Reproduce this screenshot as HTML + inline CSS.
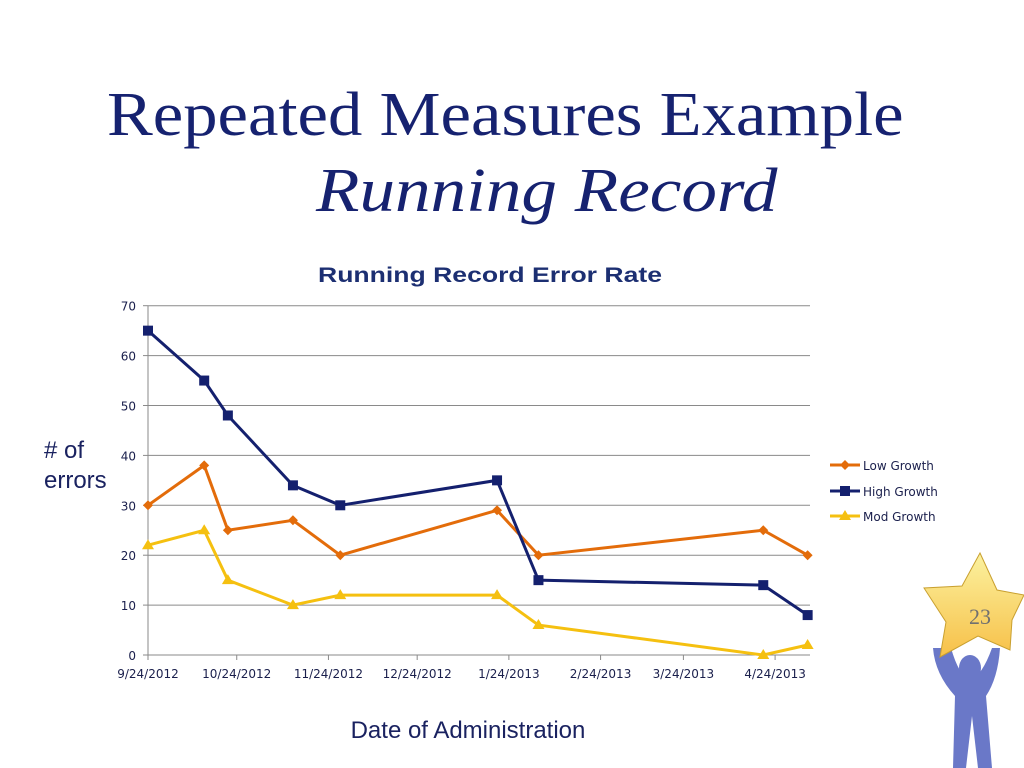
<!DOCTYPE html>
<html><head><meta charset="utf-8"><style>
html,body{margin:0;padding:0;background:#fff;}
body{width:1024px;height:768px;position:relative;overflow:hidden;font-family:"Liberation Sans",sans-serif;}
.t1{position:absolute;left:107px;top:80px;font-family:"Liberation Serif",serif;font-size:62px;color:#162270;white-space:nowrap;transform:scaleX(1.107);transform-origin:0 0;}
.t2{position:absolute;left:316px;top:156px;font-family:"Liberation Serif",serif;font-style:italic;font-size:62px;color:#162270;white-space:nowrap;transform:scaleX(1.147);transform-origin:0 0;}
</style></head><body>
<div class="t1">Repeated Measures Example</div>
<div class="t2">Running Record</div>
<svg id="chart" width="1024" height="768" style="position:absolute;left:0;top:0">
<text x="318" y="282" textLength="344" lengthAdjust="spacingAndGlyphs" font-size="21" font-weight="bold" fill="#1c2f72" font-family="Liberation Sans">Running Record Error Rate</text>
<text x="44" y="458" font-size="24" fill="#1a2260" font-family="Liberation Sans"># of</text>
<text x="44" y="488" font-size="24" fill="#1a2260" font-family="Liberation Sans">errors</text>
<text x="468" y="738" text-anchor="middle" font-size="24" fill="#1a2260" font-family="Liberation Sans">Date of Administration</text>
<g id="grid"></g><g id="series"></g><g id="legend"></g>
<g>
<defs><linearGradient id="sg" x1="0" y1="0" x2="0" y2="1"><stop offset="0" stop-color="#fbf2a0"/><stop offset="1" stop-color="#f7c048"/></linearGradient></defs>
<path d="M943,648 l8,0 q8,28 19,32 q12,-4 22,-32 l8,0 q-2,30 -14,48 l6,72 h-14 l-6,-52 l-6,52 h-13 l2,-72 q-20,-22 -22,-48 z" fill="#6a78c8"/>
<ellipse cx="970" cy="668" rx="11" ry="13" fill="#6a78c8"/>
<polygon points="980,553 997,590 1024,595 1012,620 1010,650 978,636 940,657 946,622 924,588 962,586" fill="url(#sg)" stroke="#c9a030" stroke-width="1"/>
<text x="980" y="624" text-anchor="middle" font-family="Liberation Serif" font-size="22" fill="#707070">23</text>
</g>
</svg>
<script>
const dates=["2012-09-24","2012-10-13","2012-10-21","2012-11-12","2012-11-28","2013-01-20","2013-02-03","2013-04-20","2013-05-05"];
const lowGrowth=[30,38,25,27,20,29,20,25,20];
const highGrowth=[65,55,48,34,30,35,15,14,8];
const modGrowth=[22,25,15,10,12,12,6,0,2];
const xTicks=["2012-09-24","2012-10-24","2012-11-24","2012-12-24","2013-01-24","2013-02-24","2013-03-24","2013-04-24"];
const xTickLabels=["9/24/2012","10/24/2012","11/24/2012","12/24/2012","1/24/2013","2/24/2013","3/24/2013","4/24/2013"];
const yTicks=[0,10,20,30,40,50,60,70];
const NS="http://www.w3.org/2000/svg";
const d0=Date.parse("2012-09-24"),day=86400000;
const X0=148,PXD=2.958,Y0=655,PXU=4.99;
function x(d){return X0+(Date.parse(d)-d0)/day*PXD;}
function y(v){return Y0-v*PXU;}
function mk(tag,attrs,parent){const e=document.createElementNS(NS,tag);for(const k in attrs)e.setAttribute(k,attrs[k]);parent.appendChild(e);return e;}
const grid=document.getElementById('grid');
yTicks.forEach(v=>{
 const l=mk('line',{x1:X0,x2:810,y1:y(v),y2:y(v),stroke:'#8a8a8a','stroke-width':1},grid);
 
 
 mk('line',{x1:X0-5,x2:X0,y1:y(v),y2:y(v),stroke:'#8a8a8a'},grid);
 const t=mk('text',{x:X0-12,y:y(v)+5,'text-anchor':'end','font-size':12,fill:'#1a1f4c','font-family':'DejaVu Sans'},grid);
 t.textContent=v;
 
 
});
mk('line',{x1:X0,x2:X0,y1:y(70),y2:Y0,stroke:'#8a8a8a'},grid);
xTicks.forEach((d,i)=>{
 mk('line',{x1:x(d),x2:x(d),y1:Y0,y2:Y0+5,stroke:'#8a8a8a'},grid);
 const t=mk('text',{x:x(d),y:Y0+23,'text-anchor':'middle','font-size':12,fill:'#1a1f4c','font-family':'DejaVu Sans'},grid);
 t.textContent=xTickLabels[i];
 
 
});
const ser=document.getElementById('series');
function marker(shape,cx,cy,col,g){
 if(shape==='sq')return mk('rect',{x:cx-5,y:cy-5,width:10,height:10,fill:col},g);
 if(shape==='di')return mk('polygon',{points:`${cx},${cy-5} ${cx+5},${cy} ${cx},${cy+5} ${cx-5},${cy}`,fill:col},g);
 return mk('polygon',{points:`${cx},${cy-6} ${cx+6},${cy+4} ${cx-6},${cy+4}`,fill:col},g);
}
const S=[["mod-growth",modGrowth,"#f5c010","tr"],["low-growth",lowGrowth,"#e36c0a","di"],["high-growth",highGrowth,"#14206e","sq"]];
S.forEach(([nm,vals,col,sh])=>{
 const g=mk('g',{},ser);
 
 
 const p=mk('polyline',{points:vals.map((v,i)=>x(dates[i])+','+y(v)).join(' '),fill:'none',stroke:col,'stroke-width':3},g);
 
 
 vals.forEach((v,i)=>{const m=marker(sh,x(dates[i]),y(v),col,g);
  
  });
});
const lg=document.getElementById('legend');
[["Low Growth","#e36c0a","di",465],["High Growth","#14206e","sq",491],["Mod Growth","#f5c010","tr",516]].forEach(([n,c,sh,yy])=>{
 const g=mk('g',{},lg);
 
 
 mk('line',{x1:830,x2:860,y1:yy,y2:yy,stroke:c,'stroke-width':3},g);
 marker(sh,845,yy,c,g);
 const t=mk('text',{x:863,y:yy+5,'font-size':12,fill:'#1a1f4c','font-family':'DejaVu Sans'},g);
 t.textContent=n;
});
</script>
</body></html>
